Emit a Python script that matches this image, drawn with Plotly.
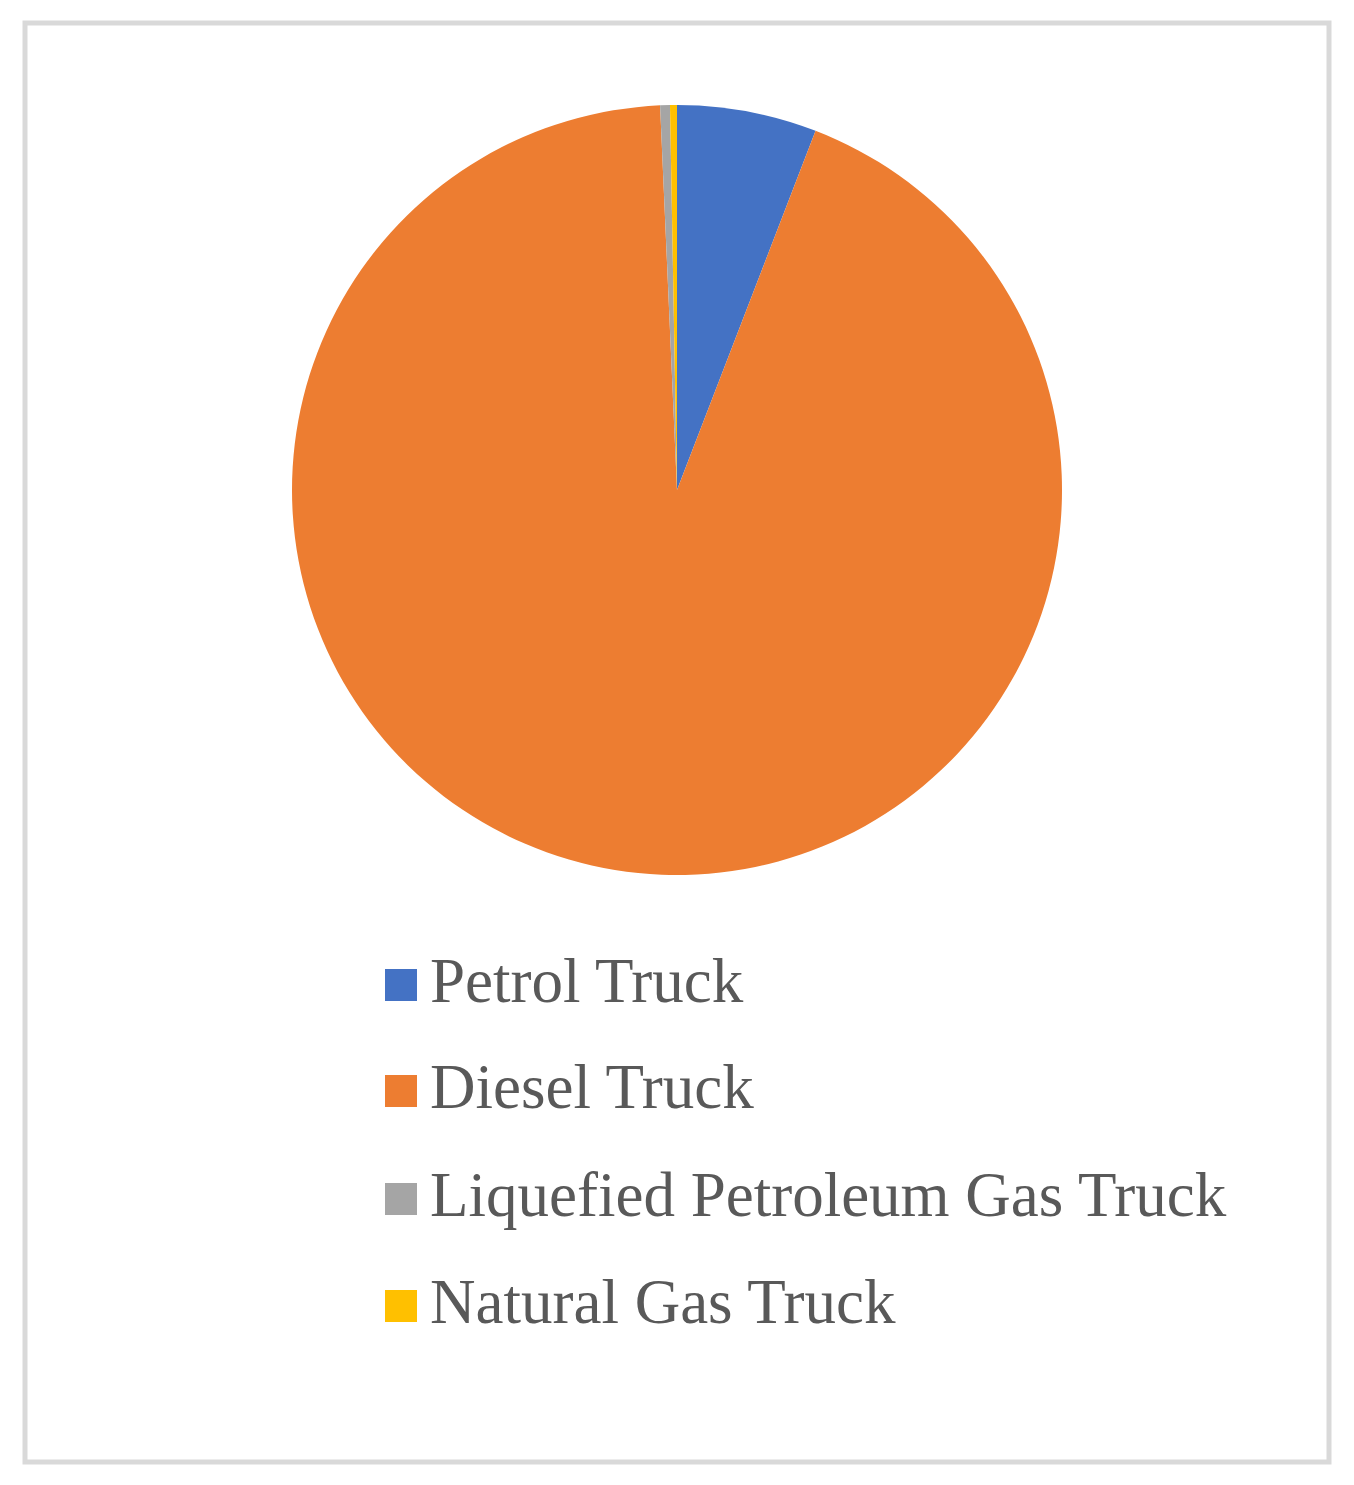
import plotly.graph_objects as go

W, H = 1354, 1485
OFF = 8  # page body margin: paper starts 8px in from the window edge

labels = ["Petrol Truck", "Diesel Truck", "Liquefied Petroleum Gas Truck", "Natural Gas Truck"]
values = [5.86, 93.44, 0.41, 0.29]
colors = ["#4472C4", "#ED7D31", "#A5A5A5", "#FFC000"]


def px(x):
    return (x - OFF) / W


def py(y):
    return 1 - (y - OFF) / H


fig = go.Figure()

# pie centred at (677, 490) px on the page, radius ~385 px
cx, cy, r = 677, 490, 385
fig.add_trace(go.Pie(
    labels=labels,
    values=values,
    marker=dict(colors=colors, line=dict(width=0)),
    sort=False,
    direction="clockwise",
    rotation=0,
    textinfo="none",
    hoverinfo="label+percent",
    showlegend=False,
    domain=dict(x=[px(cx - r), px(cx + r)],
                y=[py(cy + r), py(cy - r)]),
))

# legend drawn by hand so the swatches and spacing match
leg_y = [985, 1091, 1199, 1306]
for lab, col, yy in zip(labels, colors, leg_y):
    fig.add_shape(type="rect", xref="paper", yref="paper",
                  x0=px(385), x1=px(417),
                  y0=py(yy + 16), y1=py(yy - 16),
                  fillcolor=col, line=dict(width=0))
    fig.add_annotation(text=lab, xref="paper", yref="paper",
                       x=px(428), y=py(yy - 4),
                       xanchor="left", yanchor="middle", showarrow=False,
                       font=dict(family="Liberation Serif", size=63, color="#595959"))

# outer frame
fig.add_shape(type="rect", xref="paper", yref="paper",
              x0=px(25), x1=px(1329), y0=py(1462), y1=py(23),
              line=dict(color="#D9D9D9", width=5), fillcolor="rgba(0,0,0,0)")

fig.update_layout(
    width=W, height=H,
    margin=dict(l=0, r=0, t=0, b=0),
    paper_bgcolor="white",
    plot_bgcolor="white",
)

fig.write_html("out.html")
